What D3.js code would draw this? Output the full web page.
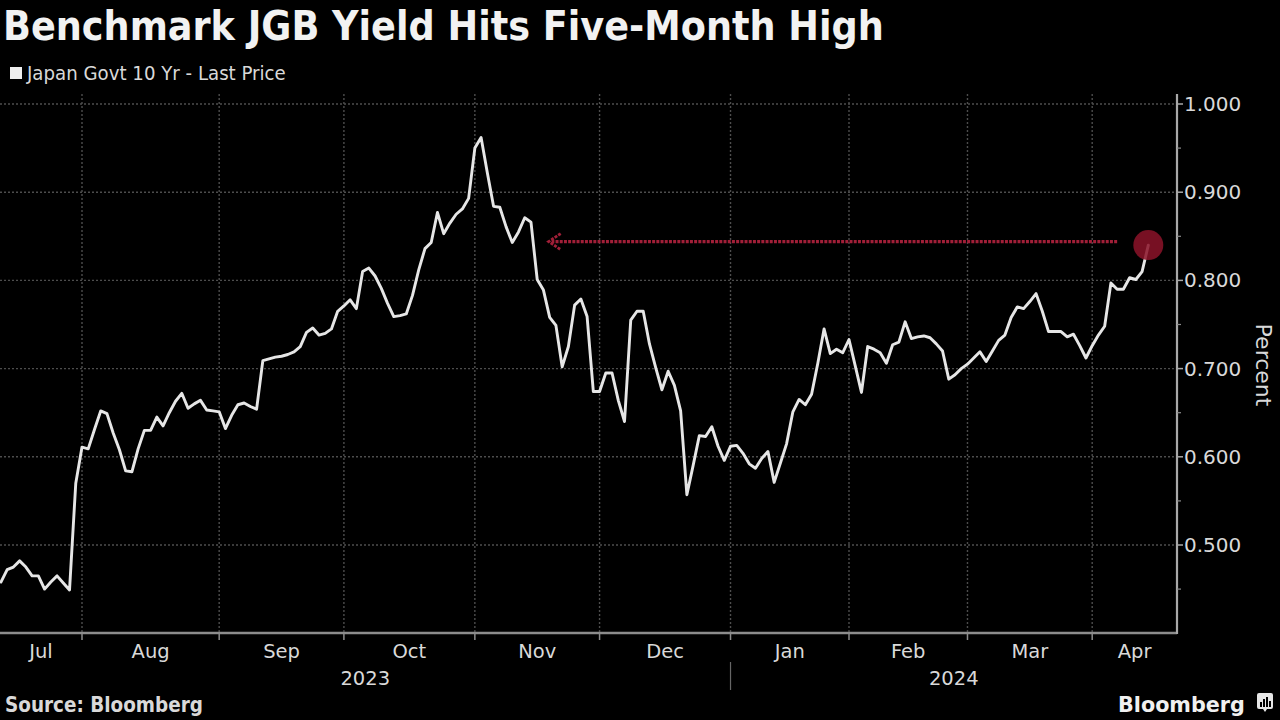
<!DOCTYPE html>
<html><head><meta charset="utf-8">
<script src="https://cdn.jsdelivr.net/npm/d3@7"></script>
<style>html,body{margin:0;padding:0;background:#000;}svg{display:block}</style>
</head><body>
<svg id="c" width="1280" height="720"></svg>
<script>
// ---------- data ----------
const titleText = "Benchmark JGB Yield Hits Five-Month High";
const seriesName = "Japan Govt 10 Yr - Last Price";
const sourceText = "Source: Bloomberg";
const brandText = "Bloomberg";
const yAxisTitle = "Percent";
const startDate = "2023-07-12";
const marketHolidays = ["2023-07-17","2023-08-11","2023-09-18","2023-10-09","2023-11-03","2023-11-23",
  "2024-01-01","2024-01-02","2024-01-03","2024-01-08","2024-02-12","2024-02-23","2024-03-20"];
const julValues = [0.458,0.472,0.475,0.482,0.475,0.465,0.465,0.450,0.458,0.465,0.457,0.449,0.570];
const augValues = [0.611,0.609,0.631,0.652,0.649,0.627,0.608,0.584,0.583,0.609,0.630,0.630,0.645,0.635,0.650,0.663,0.672,0.655,0.660,0.664,0.653,0.652];
const sepValues = [0.651,0.632,0.647,0.659,0.661,0.657,0.654,0.709,0.711,0.713,0.714,0.716,0.719,0.725,0.741,0.746,0.738,0.740,0.745,0.765];
const octValues = [0.771,0.778,0.768,0.810,0.814,0.805,0.791,0.774,0.759,0.760,0.762,0.783,0.812,0.836,0.843,0.877,0.853,0.865,0.875,0.881,0.893];
const novValues = [0.950,0.962,0.922,0.884,0.883,0.861,0.843,0.855,0.871,0.866,0.801,0.789,0.758,0.749,0.702,0.725,0.772,0.779,0.759,0.674];
const decValues = [0.674,0.695,0.695,0.664,0.640,0.755,0.765,0.765,0.728,0.701,0.676,0.697,0.681,0.652,0.557,0.590,0.624,0.623,0.634,0.612,0.596];
const janValues = [0.612,0.613,0.604,0.592,0.587,0.598,0.606,0.571,0.593,0.615,0.651,0.665,0.659,0.671,0.706,0.745,0.717,0.722,0.718];
const febValues = [0.733,0.703,0.673,0.725,0.722,0.718,0.706,0.727,0.730,0.753,0.734,0.736,0.737,0.735,0.728,0.720,0.688,0.693,0.700];
const marValues = [0.705,0.712,0.719,0.708,0.720,0.732,0.738,0.758,0.770,0.768,0.776,0.785,0.765,0.742,0.742,0.742,0.736,0.739,0.726,0.712];
const aprValues = [0.726,0.738,0.748,0.797,0.790,0.790,0.803,0.801,0.810,0.840];
const yieldValues = [].concat(julValues,augValues,sepValues,octValues,novValues,decValues,janValues,febValues,marValues,aprValues);
const yTicks = [0.5,0.6,0.7,0.8,0.9,1.0];
const yMinorTicks = [0.45,0.55,0.65,0.75,0.85,0.95];
const priorLevel = 0.844;          // level marked by the arrow
const arrowFromIndex = 179;        // arrow starts (trading-day index)
const arrowToIndex = 88;           // arrow tip (trading-day index)

// ---------- trading calendar ----------
const parse = d3.timeParse("%Y-%m-%d");
const fmtKey = d3.timeFormat("%Y-%m-%d");
const holidaySet = new Set(marketHolidays);
const dates = [];
for (let d = parse(startDate); dates.length < yieldValues.length; d = d3.timeDay.offset(d, 1)) {
  const wd = d.getDay();
  if (wd === 0 || wd === 6 || holidaySet.has(fmtKey(d))) continue;
  dates.push(new Date(d));
}
const data = yieldValues.map((v, i) => ({i, date: dates[i], v}));

// ---------- layout ----------
const svg = d3.select("#c");
svg.append("rect").attr("width",1280).attr("height",720).attr("fill","#000");
const plotLeft = 0, plotRight = 1177, plotTop = 94, plotBottom = 633;
const x = d3.scaleLinear().domain([-0.15, 188.6]).range([plotLeft, plotRight]);
const y = d3.scaleLinear().domain([0.4, 1.0]).range([633.2, 104]);
const textCol = "#d9d9d9";
const fontAxis = "'DejaVu Sans', sans-serif";

// month boundaries
const monthStarts = [];
data.forEach((d, k) => { if (k > 0 && d.date.getMonth() !== data[k-1].date.getMonth()) monthStarts.push(d.i); });

// grid
const grid = svg.append("g");
grid.selectAll("line.h").data(yTicks).join("line")
  .attr("x1", plotLeft).attr("x2", plotRight).attr("y1", d => y(d)).attr("y2", d => y(d))
  .attr("stroke", "#4d4d4d").attr("stroke-width", 1.4).attr("stroke-dasharray", "2,2");
grid.selectAll("line.v").data(monthStarts).join("line")
  .attr("x1", d => x(d)).attr("x2", d => x(d)).attr("y1", plotTop).attr("y2", plotBottom)
  .attr("stroke", "#4d4d4d").attr("stroke-width", 1.4).attr("stroke-dasharray", "2,2");

// x axis
const xa = svg.append("g");
xa.append("line").attr("x1", plotLeft).attr("x2", plotRight).attr("y1", plotBottom).attr("y2", plotBottom)
  .attr("stroke", "#8c8c8c").attr("stroke-width", 2.5);
xa.selectAll("line.t").data(monthStarts).join("line")
  .attr("x1", d => x(d)).attr("x2", d => x(d)).attr("y1", plotBottom).attr("y2", plotBottom + 7)
  .attr("stroke", "#8c8c8c").attr("stroke-width", 1.5);
const bounds = [0].concat(monthStarts);
const monthSpans = bounds.map((s, k) => {
  const x0 = k === 0 ? plotLeft : x(s);
  const x1 = k < bounds.length - 1 ? x(bounds[k+1]) : plotRight;
  return {label: d3.timeFormat("%b")(data[s].date), cx: (x0 + x1) / 2, year: data[s].date.getFullYear()};
});
xa.selectAll("text.m").data(monthSpans).join("text")
  .attr("x", d => d.cx).attr("y", 658).attr("text-anchor", "middle")
  .attr("font-family", fontAxis).attr("font-size", 19.5).attr("fill", textCol).text(d => d.label);
// years
const yearGroups = d3.groups(data, d => d.date.getFullYear());
const yearSpans = yearGroups.map(([yr, arr], k) => {
  const x0 = k === 0 ? plotLeft : x(arr[0].i);
  const x1 = k < yearGroups.length - 1 ? x(yearGroups[k+1][1][0].i) : plotRight;
  return {yr, cx: (x0 + x1) / 2, x0};
});
xa.selectAll("text.y").data(yearSpans).join("text")
  .attr("x", d => d.cx).attr("y", 685).attr("text-anchor", "middle")
  .attr("font-family", fontAxis).attr("font-size", 19.5).attr("fill", textCol).text(d => d.yr);
xa.selectAll("line.ys").data(yearSpans.slice(1)).join("line")
  .attr("x1", d => d.x0).attr("x2", d => d.x0).attr("y1", 662).attr("y2", 690)
  .attr("stroke", "#666").attr("stroke-width", 1.2);

// y axis
const ya = svg.append("g");
ya.append("line").attr("x1", plotRight).attr("x2", plotRight).attr("y1", plotTop).attr("y2", plotBottom + 1)
  .attr("stroke", "#a8a8a8").attr("stroke-width", 2.2);
ya.selectAll("line.mj").data(yTicks).join("line")
  .attr("x1", plotRight).attr("x2", plotRight + 6).attr("y1", d => y(d)).attr("y2", d => y(d))
  .attr("stroke", "#a8a8a8").attr("stroke-width", 1.5);
ya.selectAll("line.mn").data(yMinorTicks).join("line")
  .attr("x1", plotRight).attr("x2", plotRight + 4).attr("y1", d => y(d)).attr("y2", d => y(d))
  .attr("stroke", "#8c8c8c").attr("stroke-width", 1.2);
ya.selectAll("text").data(yTicks).join("text")
  .attr("x", plotRight + 7).attr("y", d => y(d) + 7)
  .attr("font-family", fontAxis).attr("font-size", 20).attr("fill", textCol)
  .text(d => d3.format(".3f")(d));
svg.append("text").attr("transform", "translate(1256,365) rotate(90)")
  .attr("text-anchor", "middle").attr("font-family", fontAxis).attr("font-size", 22)
  .attr("fill", textCol).text(yAxisTitle);

// line
const line = d3.line().x(d => x(d.i)).y(d => y(d.v)).curve(d3.curveLinear);
svg.append("path").datum(data).attr("d", line).attr("fill", "none")
  .attr("stroke", "#e6e6e6").attr("stroke-width", 2.9).attr("stroke-linejoin", "round").attr("stroke-linecap", "round");

// annotation arrow
const ay = y(priorLevel);
const arrowCol = "#a11f38";
svg.append("line").attr("x1", x(arrowFromIndex)).attr("x2", x(arrowToIndex) + 2).attr("y1", ay).attr("y2", ay)
  .attr("stroke", arrowCol).attr("stroke-width", 3.2).attr("stroke-dasharray", "3,1.2");
const tx = x(arrowToIndex) - 1;
svg.append("path").attr("d", `M${tx + 12},${ay - 8} L${tx},${ay} L${tx + 12},${ay + 8}`)
  .attr("fill", "none").attr("stroke", arrowCol).attr("stroke-width", 2.8).attr("stroke-dasharray", "3,1.2");

// highlight circle on last point
const last = data[data.length - 1];
svg.append("circle").attr("cx", x(last.i)).attr("cy", y(last.v)).attr("r", 15)
  .attr("fill", "#8a1329").attr("fill-opacity", 0.86);

// title & legend
function fitWidth(sel, w) {
  const cur = sel.node().getComputedTextLength();
  const fs = parseFloat(sel.attr("font-size"));
  sel.attr("font-size", fs * w / cur);
}
const tt = svg.append("text").attr("x", 3).attr("y", 40)
  .attr("font-family", "'DejaVu Sans Condensed','DejaVu Sans',sans-serif").attr("font-weight", "bold")
  .attr("font-size", 36).attr("fill", "#f2f2f2").text(titleText);
fitWidth(tt, 881);
svg.append("rect").attr("x", 10).attr("y", 67).attr("width", 12).attr("height", 12).attr("fill", "#eeeeee");
const lt = svg.append("text").attr("x", 27).attr("y", 80)
  .attr("font-family", "'DejaVu Sans Condensed','DejaVu Sans',sans-serif")
  .attr("font-size", 17).attr("fill", textCol).text(seriesName);
fitWidth(lt, 259);

// footer
const st = svg.append("text").attr("x", 5).attr("y", 712)
  .attr("font-family", "'DejaVu Sans Condensed','DejaVu Sans',sans-serif").attr("font-weight", "bold")
  .attr("font-size", 17).attr("fill", textCol).text(sourceText);
fitWidth(st, 198);
const bt = svg.append("text").attr("x", 1118).attr("y", 712)
  .attr("font-family", "'DejaVu Sans',sans-serif").attr("font-weight", "bold")
  .attr("font-size", 22).attr("fill", "#f0f0f0").text(brandText);
fitWidth(bt, 127);
const ic = svg.append("g").attr("transform", "translate(1257,693)");
ic.append("path").attr("d", "M2,0 H14 Q16,0 16,2 V14 Q16,16 14,16 H10 L8,19 L6,16 H2 Q0,16 0,14 V2 Q0,0 2,0 Z").attr("fill", "#e6e6e6");
[[3,9,2,5],[6,6,2,8],[9,4,2,10],[12,8,2,6]].forEach(b => ic.append("rect").attr("x", b[0]).attr("y", b[1]).attr("width", b[2]).attr("height", b[3]).attr("fill", "#000"));
</script>
</body></html>
